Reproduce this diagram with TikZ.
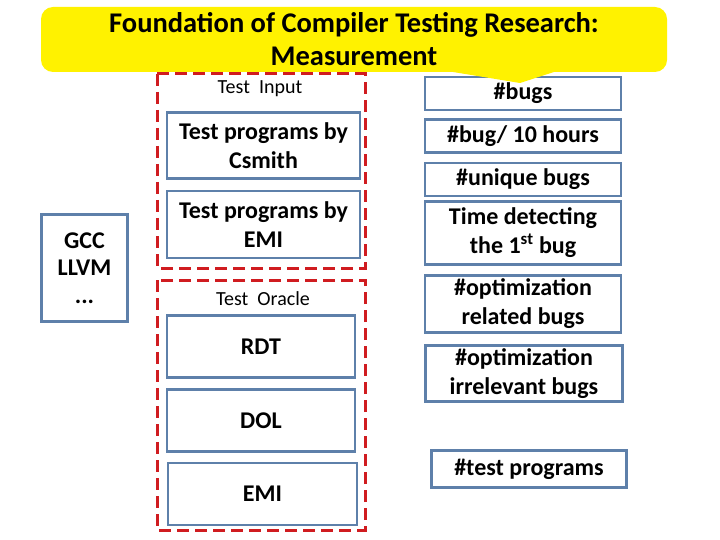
\documentclass[tikz,border=0pt]{standalone}
\usepackage{fontspec}
\setmainfont{Carlito}
\usetikzlibrary{calc}

\definecolor{boxblue}{RGB}{94,128,170}
\definecolor{dashred}{RGB}{208,28,32}

\begin{document}
\begin{tikzpicture}[x=1pt, y=-1pt,
  bluebox/.style={draw=boxblue, line width=2.8pt, inner sep=0pt, align=center,
    font=\fontsize{24}{29}\selectfont\bfseries},
  redframe/.style={draw=dashred, line width=3pt, dash pattern=on 12pt off 6pt},
  caption/.style={font=\fontsize{20}{22}\selectfont}]
  \useasboundingbox (0,0) rectangle (720,540);
  % 标题气泡
  \node[fill=yellow, rounded corners=12pt, minimum width=626pt, minimum height=65pt,
    align=center, font=\fontsize{28.5}{33}\selectfont\bfseries] (title) at (354,39.5)
    {Foundation of Compiler Testing Research:\\Measurement};
  % 左侧：被测编译器
  \node[bluebox, minimum width=86pt, minimum height=107pt, font=\fontsize{24}{27.5}\selectfont\bfseries]
    (comp) at (84.5,268) {GCC\\LLVM\\...};
  % 中间：Test Input 红框
  \draw[redframe] (157,74) rectangle (365,268);
  \node[caption] (inlabel) at (260,89) {Test\ \ Input};
  \node[bluebox, minimum width=193pt, minimum height=66pt] (csmith) at (263.5,145.5)
    {Test programs by\\Csmith};
  \node[bluebox, minimum width=193pt, minimum height=67pt] (emiin) at (263.5,224.5)
    {Test programs by\\EMI};
  % 中间：Test Oracle 红框
  \draw[redframe] (157,280) rectangle (365,530);
  \node[caption] (orlabel) at (263,299) {Test\ \ Oracle};
  \node[bluebox, minimum width=188pt, minimum height=62pt] (rdt) at (261,346.5) {RDT};
  \node[bluebox, minimum width=188pt, minimum height=62pt] (dol) at (261,420.5) {DOL};
  \node[bluebox, minimum width=189pt, minimum height=62pt] (emior) at (262.5,494) {EMI};
  % 右侧：度量指标
  \node[bluebox, minimum width=196pt, minimum height=33pt] (bugs) at (523,93.5) {\#bugs};
  \node[bluebox, minimum width=196pt, minimum height=33pt] (perhour) at (523,136)
    {\#bug/ 10 hours};
  \node[bluebox, minimum width=196pt, minimum height=33pt] (unique) at (523,179.5)
    {\#unique bugs};
  \node[bluebox, minimum width=196pt, minimum height=63pt] (first) at (523,233)
    {Time detecting\\the 1\textsuperscript{st} bug};
  \node[bluebox, minimum width=196pt, minimum height=57pt] (optrel) at (523,304)
    {\#optimization\\related bugs};
  \node[bluebox, minimum width=197pt, minimum height=56pt] (optirr) at (524,373.5)
    {\#optimization\\irrelevant bugs};
  \node[bluebox, minimum width=195pt, minimum height=37pt] (progs) at (529,469)
    {\#test programs};
  % 气泡尖角，盖住 #bugs 上边
  \fill[yellow] (447,71) -- (520,83) -- (557,71) -- cycle;
\end{tikzpicture}
\end{document}
